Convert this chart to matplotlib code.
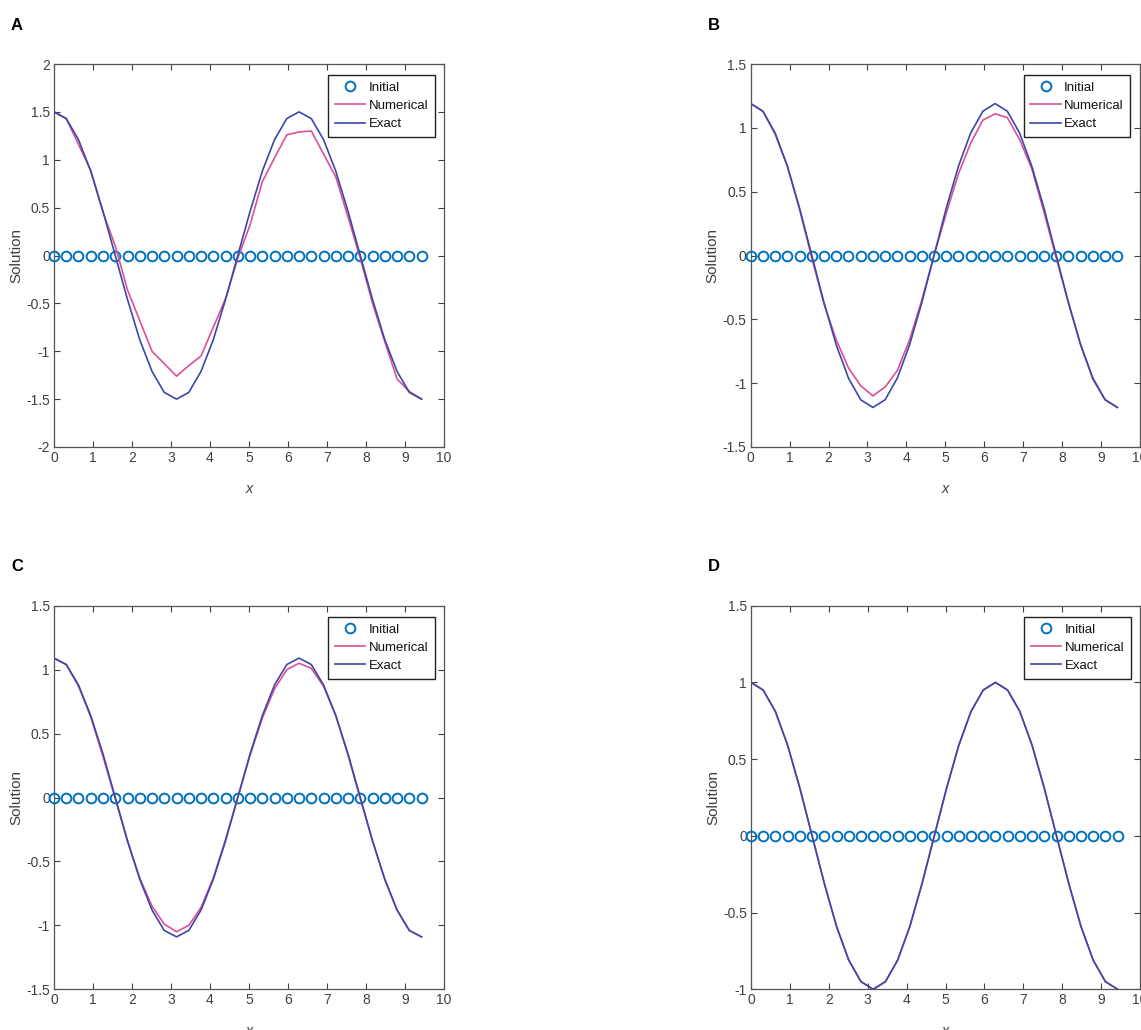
import matplotlib
matplotlib.use("Agg")
import matplotlib.pyplot as plt
from matplotlib import font_manager

names = {f.name for f in font_manager.fontManager.ttflist}
narrow = 'Liberation Sans Narrow' if 'Liberation Sans Narrow' in names else 'Liberation Sans'
plt.rcParams['font.family'] = [narrow, 'DejaVu Sans']

# ---------------- data ----------------
x = [0.000, 0.314, 0.628, 0.942, 1.257, 1.571, 1.885, 2.199, 2.513, 2.827, 3.142,
     3.456, 3.770, 4.084, 4.398, 4.712, 5.027, 5.341, 5.655, 5.969, 6.283,
     6.597, 6.912, 7.226, 7.540, 7.854, 8.168, 8.482, 8.796, 9.111, 9.425]

initial = [0.0] * 31

exact_A = [1.50, 1.43, 1.21, 0.88, 0.46, 0.00, -0.46, -0.88, -1.21, -1.43, -1.50,
           -1.43, -1.21, -0.88, -0.46, 0.00, 0.46, 0.88, 1.21, 1.43, 1.50,
           1.43, 1.21, 0.88, 0.46, 0.00, -0.46, -0.88, -1.21, -1.43, -1.50]
num_A = [1.50, 1.43, 1.16, 0.89, 0.45, 0.10, -0.36, -0.68, -1.00, -1.13, -1.26,
         -1.15, -1.05, -0.75, -0.45, -0.03, 0.32, 0.77, 1.02, 1.26, 1.29,
         1.30, 1.06, 0.82, 0.40, -0.03, -0.50, -0.90, -1.29, -1.42, -1.50]

exact_B = [1.19, 1.13, 0.96, 0.70, 0.37, 0.00, -0.37, -0.70, -0.96, -1.13, -1.19,
           -1.13, -0.96, -0.70, -0.37, 0.00, 0.37, 0.70, 0.96, 1.13, 1.19,
           1.13, 0.96, 0.70, 0.37, 0.00, -0.37, -0.70, -0.96, -1.13, -1.19]
num_B = [1.19, 1.13, 0.95, 0.70, 0.36, -0.02, -0.38, -0.66, -0.88, -1.02, -1.10,
         -1.03, -0.90, -0.66, -0.35, 0.00, 0.33, 0.64, 0.88, 1.06, 1.11,
         1.08, 0.91, 0.68, 0.34, -0.02, -0.37, -0.70, -0.97, -1.13, -1.19]

exact_C = [1.09, 1.04, 0.88, 0.64, 0.34, 0.00, -0.34, -0.64, -0.88, -1.04, -1.09,
           -1.04, -0.88, -0.64, -0.34, 0.00, 0.34, 0.64, 0.88, 1.04, 1.09,
           1.04, 0.88, 0.64, 0.34, 0.00, -0.34, -0.64, -0.88, -1.04, -1.09]
num_C = [1.09, 1.04, 0.87, 0.63, 0.32, -0.01, -0.34, -0.63, -0.85, -0.99, -1.05,
         -1.00, -0.86, -0.63, -0.33, 0.00, 0.33, 0.62, 0.85, 1.00, 1.05,
         1.01, 0.87, 0.64, 0.33, -0.01, -0.34, -0.64, -0.88, -1.04, -1.09]

exact_D = [1.00, 0.95, 0.81, 0.59, 0.31, 0.00, -0.31, -0.59, -0.81, -0.95, -1.00,
           -0.95, -0.81, -0.59, -0.31, 0.00, 0.31, 0.59, 0.81, 0.95, 1.00,
           0.95, 0.81, 0.59, 0.31, 0.00, -0.31, -0.59, -0.81, -0.95, -1.00]
num_D = [1.00, 0.95, 0.81, 0.59, 0.31, 0.00, -0.31, -0.59, -0.81, -0.95, -1.00,
         -0.95, -0.81, -0.59, -0.31, 0.00, 0.31, 0.59, 0.81, 0.95, 1.00,
         0.95, 0.81, 0.59, 0.31, 0.00, -0.31, -0.59, -0.81, -0.95, -1.00]

panel_labels = ['A', 'B', 'C', 'D']
series_labels = ['Initial', 'Numerical', 'Exact']
xticks = [0, 1, 2, 3, 4, 5, 6, 7, 8, 9, 10]
yticks_A = [-2, -1.5, -1, -0.5, 0, 0.5, 1, 1.5, 2]
yticks_BC = [-1.5, -1, -0.5, 0, 0.5, 1, 1.5]
yticks_D = [-1, -0.5, 0, 0.5, 1, 1.5]

# ---------------- figure ----------------
W, H = 1141, 1030
fig = plt.figure(figsize=(W / 100, H / 100), dpi=100)

C_INIT = '#0072BD'
C_NUM = '#DD4F9A'
C_EX = '#3A48A6'
GRAY = '#404040'

panels = [
    ('A', (54, 64, 390, 383), exact_A, num_A, (-2, 2), yticks_A),
    ('B', (750.7, 64, 389, 383), exact_B, num_B, (-1.5, 1.5), yticks_BC),
    ('C', (54, 605.7, 390, 383.6), exact_C, num_C, (-1.5, 1.5), yticks_BC),
    ('D', (751, 605.7, 389, 383.6), exact_D, num_D, (-1, 1.5), yticks_D),
]

def fmt(v):
    if float(v).is_integer():
        return str(int(v))
    return ('%g' % v)

for lab, (l, t, w, h), ex, nm, ylim, yt in panels:
    ax = fig.add_axes([l / W, 1 - (t + h) / H, w / W, h / H])
    ax.plot(x, initial, linestyle='none', marker='o', markersize=7,
            markerfacecolor='none', markeredgecolor=C_INIT, markeredgewidth=1.4,
            label=series_labels[0], clip_on=False, zorder=3)
    ax.plot(x, nm, color=C_NUM, lw=1.2, label=series_labels[1], zorder=4)
    ax.plot(x, ex, color=C_EX, lw=1.2, label=series_labels[2], zorder=5)
    ax.set_xlim(0, 10)
    ax.set_ylim(*ylim)
    ax.set_xticks(xticks)
    ax.set_xticklabels([fmt(v) for v in xticks])
    ax.set_yticks(yt)
    ax.set_yticklabels([fmt(v) for v in yt])
    ax.tick_params(direction='in', top=True, right=True, length=4, width=0.8,
                   colors=GRAY, labelsize=10, pad=3)
    for sp in ax.spines.values():
        sp.set_color('#555555')
        sp.set_linewidth(0.9)
    ax.set_xlabel('x', fontsize=10.5, style='italic', color=GRAY, labelpad=12)
    ax.set_ylabel('Solution', fontsize=11, color=GRAY)
    ax.yaxis.set_label_coords(-31 / w, 0.5)
    leg = ax.legend(loc='upper right', bbox_to_anchor=(0.976, 0.971), fontsize=9.5,
                    fancybox=False, edgecolor='#222222', framealpha=1,
                    numpoints=1, handlelength=2.3, handletextpad=0.25,
                    borderpad=0.5, labelspacing=0.45, borderaxespad=0)
    leg.get_frame().set_linewidth(1.0)
    for txt in leg.get_texts():
        txt.set_color('#111111')
    fig.text((l - 43) / W, 1 - (t - 39) / H, lab, fontsize=12, fontweight='bold',
             family='Liberation Sans', ha='left', va='center')

fig.savefig('out.png', dpi=100)
